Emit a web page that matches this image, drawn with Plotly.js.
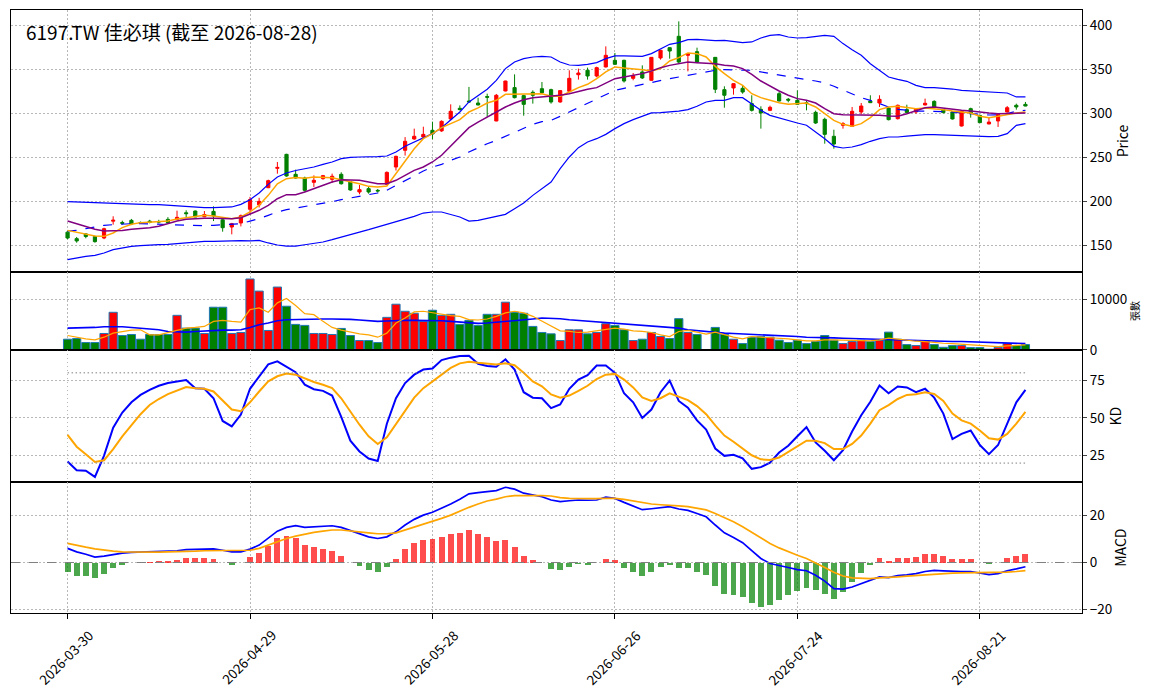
<!DOCTYPE html>
<html><head><meta charset="utf-8">
<script src="https://cdn.plot.ly/plotly-3.0.1.min.js"></script>
<style>html,body{margin:0;padding:0;background:#fff}#chart{width:1163px;height:698px}</style>
</head><body><div id="chart"></div>
<script>
const TITLE = '6197.TW 佳必琪 (截至 2026-08-28)';
const TICK_IDX = [0, 20, 40, 60, 80, 100];
const TICK_LABELS = ['2026-03-30','2026-04-29','2026-05-28','2026-06-26','2026-07-24','2026-08-21'];

const OPEN = [165,157.6,163,160,158.3,177.5,176,178.4,176,177.5,177,179.5,179.5,187,189,182.5,188.6,179,170.8,175.4,
191,196,215.5,237.5,253.4,230.7,226.5,221.6,225.8,225,230.7,222.3,210.6,214.4,212.5,219.3,239,258,270.8,273.1,
280.7,280,293.6,305.7,314,311.7,319,291.3,325.4,329.2,320.1,323.9,328,326.9,312.9,325,343.9,348.9,342.4,352.7,
360.2,360.2,339.8,347,337.5,362.9,374.6,387.5,365.9,370.1,null,363.6,326.9,328.8,328.4,311,304.5,303.4,322.3,316,
314.8,312,301.1,293.2,273.9,286.4,285.2,301.5,314,311.7,306,293.9,304.2,301.5,309.5,313.6,304.2,301.5,285.6,305.3,
297.7,287.9,291.3,301.5,309.1,310.2];
const HIGH = [166,159.5,164,161,170,183,178,180,177,179,179,182,189.4,189.8,189.5,189,194.3,180,175.5,185,
205,204,224.6,244.7,254,236,228,229.5,230,231.5,233,223,218.6,216.3,214,234,252,273,282.6,284.8,
290.5,292,310.2,309,330,317.8,322.3,322,337,344.3,321,326.1,335.6,328,326,348.9,350.8,351.9,353,376.1,
368.6,361,345.8,354.5,364,372,375,404.5,368.6,374.6,null,364,330.7,334,332.2,320.5,308,308.7,324.2,317.4,
326.1,314.8,303,295,281.4,290,307.2,311.7,320.5,320.5,307,310,309.8,306,316.7,314.8,305,302,302.5,306.4,
298,295.8,300,308.3,311,312.9];
const LOW = [157,153,158,153,157,173.5,173.5,173,174.5,175,175,174.6,179,181.4,182,182,177.6,165.5,162.5,171.5,
185,193,215,231.4,228,225.8,211,216.3,224.5,221,219,212,208,208.7,210,219,235,252,270,272,
270.5,279,292,303.4,312,309,296,291,325,317,297.3,311,322,311,312,324,338.3,338.3,341,352,
355,335,337.5,339,337,361,362.1,356.4,347.7,357,null,323,306.4,321.2,322.3,302,282.6,302.5,313.6,312.5,
310,303.4,288,265.5,259.8,282.6,285,299,311.7,307.2,292,293,300,299.5,309,306.4,300,293,285,295.1,
289,287.5,284.5,301,304.2,308];
const CLOSE = [158.3,155,160,154.2,168.9,178.5,175,174.2,175.2,176,176.5,175.8,181.8,186,182.2,185,183.3,170,174.6,183.7,
202,200,223.5,238.5,228.8,226.5,212.5,223.9,229.2,228.5,220,212.9,213.3,210.6,211.8,232.9,251.1,268.2,273.9,276.1,
276.5,290.9,302.3,304.2,313,309.5,318.3,320.5,336.7,317.8,310.2,320.5,323.5,312.9,325.8,339.8,345.8,342.4,351.9,365.9,
355.7,336.7,342.8,340.2,363.6,371.6,370.8,358.3,367.8,358.3,null,327.3,320.5,333.7,324.2,303.4,300.4,306.8,314,315,
310.2,311,289,276.1,265.1,288.3,302.3,308.3,312.1,315.9,292.8,309.1,300.8,304.5,311.4,307.2,300.8,293.6,302.3,300.4,
289.4,290.1,298.9,306.4,307.2,308.3];

const BB_UPPER = [199.6,199.2,198.5,198.1,197.5,197.3,197,196.6,196.3,196.2,196.2,195.5,194.7,194,192.8,192.8,192.8,192.8,193.6,196.6,
201.9,209.5,219.3,227.6,232.2,235,236.6,239,242,244.7,248.5,250,250.4,250.4,250.8,251.5,256.1,262.5,267.4,272.3,
276.9,283.7,292.8,301.5,312.9,320.5,327.3,337.5,350.8,358.3,362.1,364,364.8,364,358.3,354.9,354.5,355.7,357.6,362.1,
365.2,365.2,364.8,364.8,367.8,373.5,378.4,380.3,383.7,384.1,383,382.6,383,381.8,380.3,381.1,385.6,388.6,389.4,386.7,
385.6,386,387.5,388.6,387.5,379.2,372.3,365.9,356.4,348.9,341.3,338.6,336.4,331.8,329.2,329.2,328.8,327.6,326.1,325.4,
324.6,323.9,323.9,323.1,318.6,318.6];
const BB_MID = [166.3,167,168.9,170.8,172.7,173.5,174.2,174.6,174.6,174.2,174.2,173.9,173.5,172.3,172.3,172.3,172.7,173.5,173.9,174.6,
177.6,180.3,184.1,187.9,190.5,192.3,194,195.5,198.1,199.6,201.9,203.8,205.7,207.6,209.5,212.5,218.2,223.9,229.5,234.5,
239,242,246.6,250.4,256.1,261,265.5,269.3,273.9,278,282.6,287.5,290.5,292,296.6,301.5,306.4,311.7,316.7,321.6,
326.1,328.4,330.7,333,335.2,337.5,339.4,341.3,343.2,345.1,347,348.9,349.6,349.6,349.6,348.9,347,345.1,343.2,341.3,
339.4,338.3,336.7,334.5,330.7,326.1,321.6,317.8,314.8,311,307.2,304.5,303.4,302.6,302.6,302.3,301.9,301.5,300.4,299.6,
298.9,298.1,298.3,299.6,302.3,303.4];
const BB_LOWER = [133.7,136,137.5,138.6,141.3,145.1,147.3,148.9,149.6,150.4,150.8,151.1,151.9,153,154.2,154.5,154.5,154.9,154.9,155.3,
155,155.7,152.7,150.4,149.2,149.2,150.7,151.9,153.8,156.4,159.5,162.5,165.1,167.8,170.8,173.9,176.1,179.2,182.9,186.7,
187.9,187.9,185.2,182.2,177.6,178.4,180.7,182.9,185.2,191.7,198.1,206.8,214,222,237.1,250.4,261,267.4,271.2,276.1,
282.6,288.3,292.8,296.6,300.4,300.8,301.5,302.6,304.2,308,312.9,314.8,314.8,317.8,317.8,311,303.4,297.7,294.5,292,
289,286.4,278.8,271.2,262.5,260.6,261.7,264.4,268.2,271.2,273.1,273.1,274.2,275.4,275.8,275.8,275.4,275,274.6,274.2,
273.9,273.5,273.9,276.9,286.4,288.3];
const MA5 = [167,165.1,163.2,160.6,160.2,164,170.1,173.9,175.8,176.5,176.9,177.6,180,181.1,183,184.1,183.3,181.4,180.3,182.2,
187.9,195.5,206.8,220,225.8,227,226.2,227.6,227.6,226.9,224.6,222.7,220,217,216.3,217.4,231.4,246.6,259.8,271.2,
276.9,283.7,288.3,292.8,301.5,306.1,311.7,314.8,321.6,321.6,321.6,321.6,322.3,319.3,319.3,324.2,329.2,333,339.4,347,
352.7,351.5,350.8,349.6,348.1,350.8,359.5,363.3,368.6,367.8,364,353.4,345.1,337.5,331.8,322.3,317.8,314.8,312,310.2,
311,311.7,307.2,299.6,292,287.5,285.2,288.3,295.1,304.2,307.2,308,306.4,305.3,306.1,305.3,304.2,302.6,301.5,300.4,
296.6,295.1,296.6,298.9,300.4,301.5];
const MA10 = [177.7,174.6,171.6,168.2,166.3,166.3,167,168.2,168.9,170.1,171.6,174.6,177.7,179.5,180.3,180.7,180.7,180.3,180.3,181.4,
185.2,189.8,195.5,203,207.6,207.5,210.6,214.4,218.2,222,224.6,224.6,223.9,222,220,220,223.9,229.5,235.2,239,
244.7,252.3,262.5,273.1,283.7,290.1,295.8,301.5,307.2,311.7,315.5,317.8,318.5,319.3,320.5,322.3,325,327.3,329.2,334.5,
339.4,341.3,343.2,345.1,348.1,351.9,354.5,356.4,358.3,357.6,357.2,356.4,354.5,353.8,350.8,344.3,336.7,330.7,325.4,320.5,
316.7,314.8,311.7,305.3,299.6,298.5,298.5,298.5,298.5,297.7,296.9,296.6,299.6,303.4,306.4,307.2,305.7,304.2,303.4,302.6,
301.1,300.4,299.6,299.6,300.4,300.4];

const VOLUME = [2125,2258,1461,1461,3254,7437,2855,3054,2125,3054,3054,3054,6839,4316,4316,3254,8433,8433,3254,3453,
14010,11620,3851,12417,8632,5046,4847,3254,3254,3054,4250,2855,1859,1859,1461,6441,9030,7636,7238,5644,
7835,6839,7038,5046,5843,4847,7038,7038,9429,7437,7238,4648,3453,3187,1859,3984,3984,3187,3453,5179,
4847,3984,1859,2125,3453,2656,2258,6175,3453,3054,null,4449,3054,2125,1262,2523,2656,2523,1926,1461,
1926,1262,1660,2855,1926,1262,1660,1926,1660,1926,3519,2125,1062,863,1859,1062,531,863,863,465,
465,150,465,1262,863,1062];
const VOL_LONG = [4316,4316,4382,4449,4582,4648,4582,4449,4316,4183,3984,3652,3519,3519,3652,3785,3851,3918,3918,3984,
4449,4980,5312,5777,5976,6042,6042,6042,6109,6109,6109,6042,5910,5777,5644,5710,5843,5843,5843,5843,
5843,5777,5644,5511,5445,5246,5312,5445,5644,5843,5976,6109,6308,6308,6175,5976,5843,5710,5511,5445,
5312,5179,4980,4847,4714,4582,4449,4316,3984,3785,3586,3453,3320,3254,3187,3054,2988,2855,2789,2722,
2656,2523,2523,2457,2390,2324,2258,2191,2125,2058,1992,1992,1926,1926,1859,1793,1726,1660,1660,1594,
1527,1461,1394,1328,1262,1262];
const VOL_SHORT = [2855,2457,2191,1992,2523,3320,3652,3918,3984,2988,2988,3453,3918,4316,4449,4648,5644,5843,5644,5511,
7968,8300,7437,9296,10159,8765,7171,6972,5644,4449,3918,3519,3187,2988,2523,3320,5312,6308,7503,7636,
7304,6972,6773,6640,5976,5910,6109,6640,7304,7636,7304,6640,5644,4648,3785,3652,3453,3519,3785,4183,
4316,4117,3785,3652,3453,2988,2656,3652,3851,3519,3121,3519,2988,2523,2191,2656,2523,2457,2324,2191,
1992,1793,1793,1992,1992,1926,1793,1859,1793,1992,2324,2125,1859,1726,1660,1461,1328,1262,1129,996,
797,664,664,797,930,996];
const VOL_TICKS = [0, 10000];
const VOL_TICK_LABELS = ['0', '10000'];

const K_VALUES = [21,15.3,14.9,10.8,25,43.5,53.6,60.4,65.3,68.7,71.4,73.2,74.3,75.2,69.8,69.4,63.1,48,44.4,52.3,
69.4,77.7,85.6,87.6,84,80.4,72.1,69.1,68,64.9,50.7,34.9,27.7,23,21.4,46.2,63.1,73.2,78.8,82.2,
82.9,88.5,90.1,91.2,91.4,86,84.5,84,89,82.2,67.1,63.5,63.1,56.5,59,69.4,75.5,78.4,84.9,84.9,
80,66.4,60.4,50,55.6,67.1,74.8,61.3,56.8,48.4,42.3,29.7,24.8,25.5,23.2,16.2,17.3,20.3,27,31.5,
37.8,43.9,33.7,28.2,21.9,28.6,41,51.8,60.8,71.6,66.4,70.9,70.3,67.1,69.4,63.5,52.9,36,39.4,41.7,
32,25.9,32,46.2,60.4,68.7];
const D_VALUES = [38.7,30.9,25.9,20.7,21.9,29.3,37.8,45.5,52.5,58.6,62.6,65.8,68.2,70.5,69.8,69.4,67.6,61.3,55.6,54.5,
60.4,67.6,74.3,77.7,79.5,78.8,76.1,73.9,72.1,69.8,63.1,54.1,45.5,37.8,32.7,37.2,46.2,55.2,63.5,69.8,
74.3,79.3,83.3,86.3,87.4,86.7,86,85.6,86.3,85.1,80,74.3,71,65.6,63.5,64.9,68,71.4,75.9,78.8,
79.3,75.5,70.3,63.7,61.3,63.1,66.4,64.2,61.9,57.9,52.5,45,38.3,34.2,29.7,25.2,22.5,22.1,23.7,27.5,
31.5,34.9,34.9,33.3,29.3,29.3,32.7,38.3,46.2,55.2,58.6,62.6,65.3,65.8,67.1,66,61.3,52.9,48.4,46.2,
41.7,36.5,35.6,39.4,46.2,54.1];
const KD_HIGH = 80, KD_LOW = 20;

const DIF = [6,4.5,3.5,2.3,2.7,3.5,4,4.3,4.4,4.4,4.5,4.7,5,5.5,5.7,5.8,5.8,5.2,4.5,4.5,
5.7,7.4,10.2,13.3,14.9,15.6,14.9,15.2,15.5,15.6,14.9,13.5,12.1,10.9,10.2,10.9,13,15.9,18.3,20.1,
21.3,23,24.8,26.8,29.1,29.6,30.2,30.5,31.9,31.1,29.4,28.6,27.9,26.5,25.8,26.2,26.5,26.4,26.5,27.7,
27.2,25.5,24,22.4,22.8,23.4,23.7,22.7,22.1,20.8,19.4,15.9,12.6,10.6,8.4,5,1.7,-0.4,-1.4,-2.1,
-3,-3.5,-5.4,-7.9,-11.1,-11.3,-10.4,-8.9,-7.5,-6.1,-6.4,-5.5,-5.2,-4.7,-3.8,-3.3,-3.5,-3.8,-3.8,-3.8,
-4.4,-5.1,-4.7,-3.5,-2.7,-1.8];
const SIGNAL = [8.1,7.2,6.5,5.8,5.2,4.8,4.5,4.4,4.4,4.4,4.4,4.5,4.5,4.7,4.8,5,5.1,5.1,5.1,5.1,
5.2,6,7.4,8.9,10.2,11.2,12.1,12.8,13.3,13.8,13.8,13.5,13,12.6,12.2,12.2,12.6,13.8,14.9,16.2,
17.3,18.7,20.1,21.8,23.4,24.8,26.1,26.9,27.9,28.4,28.5,28.5,28.4,28.2,27.5,27.2,27.1,26.9,27.1,27.2,
27.2,26.8,26.1,25.4,24.8,24.5,24.4,24,23.7,23.1,22.3,20.8,19.1,17.3,15.2,12.8,10.2,8.1,6.2,4.5,
3.1,1.7,-0.1,-2.1,-4.1,-5.7,-6.5,-6.8,-6.8,-6.5,-6.4,-6.1,-5.8,-5.5,-5.2,-5,-4.7,-4.5,-4.4,-4.4,
-4.4,-4.4,-4.4,-4.1,-3.8,-3.4];
const MACD_HIST = [-4,-5.7,-5.7,-6.5,-5,-2.3,-1,-0.2,0,0.1,0.6,0.6,1,1.8,1.8,1.8,1.3,0,-1,0,
2.3,4,7.1,10.6,11.2,10.6,7.4,6.5,5.7,4.8,2.7,0,-1.4,-3,-4,-1.8,1.4,5.7,8.4,9.5,
9.9,10.8,12.1,12.5,13.8,12.1,10.8,9.1,9.5,6.5,2.7,1,0,-2.8,-3.3,-2,-0.6,-1,-0.1,1.4,
1,-2.4,-4.1,-5.8,-4.1,-2,-1,-2.4,-2.4,-4.1,-5.2,-10.1,-13.3,-13.9,-14.7,-17.3,-18.9,-18.2,-15.9,-13.8,
-12.1,-10.9,-11.6,-13.3,-15.5,-12.5,-8.2,-4.4,-1,1.8,0.6,1.8,1.8,2.3,3.5,3.5,2.7,1.3,1.3,1.3,
0,-0.6,0,1.8,2.7,3.5];

const RED = '#ff0000', GREEN = '#008000';
const X = OPEN.map((_, i) => i);
const volColors = OPEN.map((o, i) => (CLOSE[i] !== null && CLOSE[i] >= o) ? RED : GREEN);
const histColors = MACD_HIST.map(v => v >= 0 ? 'rgba(255,0,0,0.7)' : 'rgba(0,128,0,0.7)');

const line = (y, color, width, xa, ya, dash) => ({
  type: 'scatter', mode: 'lines', x: X, y: y, xaxis: xa, yaxis: ya,
  line: {color: color, width: width, dash: dash || 'solid'}, hoverinfo: 'skip'
});

const traces = [
  {type: 'candlestick', x: X, open: OPEN, high: HIGH, low: LOW, close: CLOSE, xaxis: 'x', yaxis: 'y',
   increasing: {line: {color: RED, width: 1}, fillcolor: RED},
   decreasing: {line: {color: GREEN, width: 1}, fillcolor: GREEN}, whiskerwidth: 0},
  line(BB_UPPER, 'blue', 1.2, 'x', 'y'),
  line(BB_MID, 'blue', 1.2, 'x', 'y', 'dash'),
  line(BB_LOWER, 'blue', 1.2, 'x', 'y'),
  line(MA5, 'orange', 1.5, 'x', 'y'),
  line(MA10, 'purple', 1.5, 'x', 'y'),
  {type: 'bar', x: X, y: VOLUME, xaxis: 'x2', yaxis: 'y2', width: 0.9,
   marker: {color: volColors, line: {color: '#1f77b4', width: 1}}},
  line(VOL_LONG, 'blue', 1.6, 'x2', 'y2'),
  line(VOL_SHORT, 'orange', 1.2, 'x2', 'y2'),
  line(K_VALUES, 'blue', 2, 'x3', 'y3'),
  line(D_VALUES, 'orange', 2, 'x3', 'y3'),
  {type: 'bar', x: X, y: MACD_HIST, xaxis: 'x4', yaxis: 'y4', width: 0.65,
   marker: {color: histColors, line: {width: 0}}},
  line(DIF, 'blue', 1.7, 'x4', 'y4'),
  line(SIGNAL, 'orange', 1.7, 'x4', 'y4')
];

const FONT = 'Noto Sans CJK TC, DejaVu Sans, sans-serif';
const TICK_SIZE = 13.5;
const GRID_DASH = '1.5px,2.5px';
const XR = [-6.2, 111.2];
const xBase = (anchor, ticks) => ({
  anchor: anchor, range: XR, tickmode: 'array', tickvals: TICK_IDX, ticktext: TICK_LABELS,
  showticklabels: false, ticks: ticks ? 'outside' : '', ticklen: 5, tickcolor: '#000',
  showgrid: true, gridcolor: '#b0b0b0', griddash: GRID_DASH, gridwidth: 0.9,
  showline: true, mirror: true, linecolor: '#000', linewidth: 1, zeroline: false,
  rangeslider: {visible: false}, fixedrange: true
});
const yBase = (domain, range, tickvals, title, tsize) => ({
  domain: domain, range: range, anchor: 'x', side: 'right', tickmode: 'array', tickvals: tickvals,
  ticks: 'outside', ticklen: 4, showgrid: true, gridcolor: '#b0b0b0', griddash: GRID_DASH, gridwidth: 0.9,
  showline: true, mirror: true, linecolor: '#000', linewidth: 1, zeroline: false,
  tickfont: {size: TICK_SIZE, color: '#000'},
  title: {text: title, font: {size: tsize, color: '#000'}, standoff: 5}
});

const dateAnnotations = TICK_IDX.map((v, i) => ({
  text: TICK_LABELS[i], xref: 'x4', yref: 'paper', x: v, y: -0.073, xshift: -2,
  xanchor: 'center', yanchor: 'middle', textangle: -45, showarrow: false,
  font: {size: TICK_SIZE, color: '#000', family: FONT}
}));

const layout = {
  width: 1163, height: 698, paper_bgcolor: '#fff', plot_bgcolor: '#fff',
  margin: {l: 11, r: 81, t: 10, b: 85}, showlegend: false, boxgap: 0.5,
  font: {family: FONT, color: '#000'}, bargap: 0,
  xaxis: xBase('y', false),
  xaxis2: xBase('y2', false),
  xaxis3: xBase('y3', false),
  xaxis4: xBase('y4', true),
  yaxis: yBase([0.5655, 1], [119.7, 417.4], [150, 200, 250, 300, 350, 400], 'Price', 14),
  yaxis2: Object.assign(yBase([0.4362, 0.5655], [0, 15385], VOL_TICKS, '張數', 10),
    {anchor: 'x2', ticktext: VOL_TICK_LABELS}),
  yaxis3: Object.assign(yBase([0.2167, 0.4362], [7.2, 95.2], [25, 50, 75], 'KD', 14), {anchor: 'x3'}),
  yaxis4: Object.assign(yBase([0, 0.2167], [-21.4, 34], [-20, 0, 20], 'MACD', 14), {anchor: 'x4'}),
  shapes: [
    {type: 'line', xref: 'x3', yref: 'y3', x0: X[0], x1: X[X.length - 1], y0: KD_HIGH, y1: KD_HIGH,
     line: {color: '#808080', width: 1, dash: GRID_DASH}},
    {type: 'line', xref: 'x3', yref: 'y3', x0: X[0], x1: X[X.length - 1], y0: KD_LOW, y1: KD_LOW,
     line: {color: '#808080', width: 1, dash: GRID_DASH}},
    {type: 'line', xref: 'x4 domain', yref: 'y4', x0: 0, x1: 1, y0: 0, y1: 0,
     line: {color: '#808080', width: 1.2, dash: 'dash'}}
  ],
  annotations: [
    {text: TITLE, xref: 'paper', yref: 'paper', x: 0.012, y: 0.964, xanchor: 'left', yanchor: 'middle',
     showarrow: false, font: {size: 19, color: '#000', family: FONT}}
  ].concat(dateAnnotations)
};

Plotly.newPlot('chart', traces, layout, {displayModeBar: false, staticPlot: true});
</script>
</body></html>
